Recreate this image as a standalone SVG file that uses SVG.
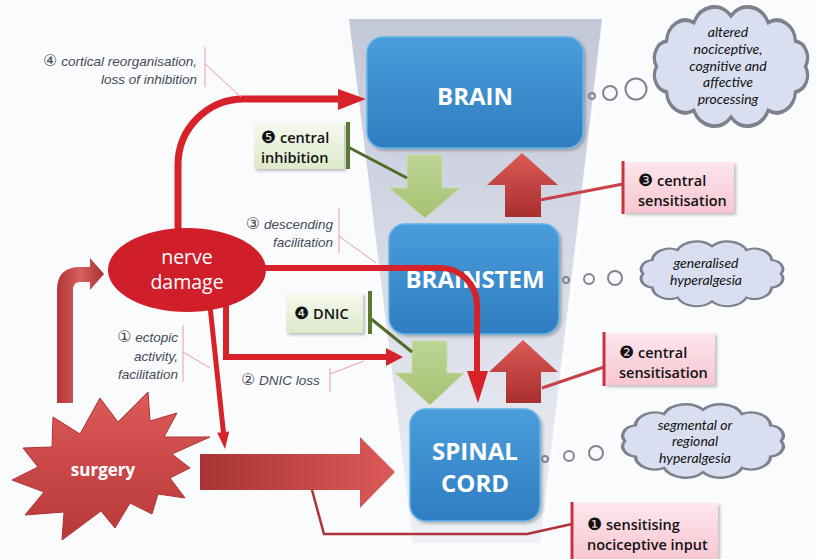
<svg xmlns="http://www.w3.org/2000/svg" width="816" height="559" viewBox="0 0 816 559">
<defs>
<linearGradient id="gFunnel" x1="0" y1="0" x2="0" y2="1"><stop offset="0" stop-color="#c3c8d9"/><stop offset="1" stop-color="#eef0f6"/></linearGradient>
<linearGradient id="gBlue" x1="0" y1="0" x2="0" y2="1"><stop offset="0" stop-color="#4a9ddb"/><stop offset="1" stop-color="#2f7dc1"/></linearGradient>
<linearGradient id="gGreenBox" x1="0" y1="0" x2="0" y2="1"><stop offset="0" stop-color="#f6f9ef"/><stop offset="1" stop-color="#dde9c9"/></linearGradient>
<linearGradient id="gPinkBox" x1="0" y1="0" x2="0" y2="1"><stop offset="0" stop-color="#fde6ec"/><stop offset="1" stop-color="#f7c6d1"/></linearGradient>
<linearGradient id="gGreenArr" x1="0" y1="0" x2="0" y2="1"><stop offset="0" stop-color="#bdd594"/><stop offset="1" stop-color="#a6c173"/></linearGradient>
<linearGradient id="gRedArr" x1="0" y1="0" x2="0" y2="1"><stop offset="0" stop-color="#dc5a55"/><stop offset="1" stop-color="#a82f2f"/></linearGradient>
<linearGradient id="gSurgArr" x1="0" y1="0" x2="1" y2="0"><stop offset="0" stop-color="#a83434"/><stop offset="1" stop-color="#dc5a58"/></linearGradient>
<linearGradient id="gBent" x1="0" y1="0" x2="1" y2="0"><stop offset="0" stop-color="#b23636"/><stop offset="0.5" stop-color="#d86060"/><stop offset="1" stop-color="#a83030"/></linearGradient>
<linearGradient id="gStar" x1="0" y1="0" x2="0" y2="1"><stop offset="0" stop-color="#dc5a58"/><stop offset="1" stop-color="#b83838"/></linearGradient>
<filter id="sh" x="-10%" y="-10%" width="125%" height="130%"><feDropShadow dx="2" dy="2" stdDeviation="1.5" flood-color="#000" flood-opacity="0.25"/></filter>
<path id="cloud" d="M96,30 A8.6,8.6 0 0 1 89.8,43 A11.6,11.6 0 0 1 73,52.5 A14,14 0 0 1 50,56 A14,14 0 0 1 27,52.5 A11.6,11.6 0 0 1 10.2,43 A8.6,8.6 0 0 1 4,30 A8.6,8.6 0 0 1 10.2,17 A11.6,11.6 0 0 1 27,7.5 A14,14 0 0 1 50,4 A14,14 0 0 1 73,7.5 A11.6,11.6 0 0 1 89.8,17 A8.6,8.6 0 0 1 96,30 Z"/>
</defs>
<style>
.box{fill:url(#gBlue);stroke:#5fb2e8;stroke-width:1.5;filter:url(#sh)}
.boxt{font-family:"Open Sans","Noto Sans",sans-serif;font-weight:bold;font-size:24px;fill:#fff;text-anchor:middle}
.cloud{fill:#d9dff0;stroke:#7c818c;stroke-width:2}
.dot{fill:none;stroke:#80858f;stroke-width:2}
.ct{font-family:Lato,"DejaVu Sans",sans-serif;font-style:italic;font-size:14px;fill:#111;text-anchor:middle}
.gbox{fill:url(#gGreenBox);filter:url(#sh)}
.gbar{stroke:#5a7830;stroke-width:4}
.gcon{stroke:#4f6b2a;stroke-width:3;fill:none}
.pbox{fill:url(#gPinkBox);filter:url(#sh)}
.pbar{stroke:#c8343e;stroke-width:3}
.pcon{stroke:#c8404a;stroke-width:3;fill:none}
.bt{font-family:"Open Sans","DejaVu Sans",sans-serif;font-weight:600;font-size:14.5px;fill:#111}
.num{font-family:"DejaVu Sans",sans-serif;font-size:17px;font-weight:normal}
.cnum{font-family:"DejaVu Sans",sans-serif;font-size:16px;font-style:normal}
.lab{font-family:"Liberation Sans","DejaVu Sans",sans-serif;font-style:italic;font-size:13.5px;fill:#464a55}
.thin{stroke:#ec9ca8;stroke-width:1;fill:none}
.red{stroke:#d8222a;fill:none}
.redh{fill:#d8222a}
</style>
<rect width="816" height="559" fill="#f9fbfd"/>
<g id="funnel">
<polygon points="349,19 602,19 540,543 413,543" fill="url(#gFunnel)"/>
<line x1="605" y1="21" x2="543" y2="543" stroke="#ffffff" stroke-width="1.5"/>
</g>
<g id="brain"><rect class="box" x="367" y="37" width="216" height="111" rx="16"/><text class="boxt" x="475" y="105">BRAIN</text></g>
<g id="brainstem"><rect class="box" x="389" y="224" width="170" height="110" rx="16"/><text class="boxt" x="475" y="288">BRAINSTEM</text></g>
<g id="spinal-cord"><rect class="box" x="410" y="409" width="130" height="112" rx="16"/><text class="boxt" x="475" y="460">SPINAL</text><text class="boxt" x="475" y="492">CORD</text></g>
<g id="green-arrow-1"><polygon points="407,155 442,155 442,188 460,188 425,218 389,188 407,188" fill="url(#gGreenArr)" stroke="#c9dca8" stroke-width="1"/></g>
<g id="green-arrow-2"><polygon points="412,341 447,341 447,373 464,373 430,405 395,373 412,373" fill="url(#gGreenArr)" stroke="#c9dca8" stroke-width="1"/></g>
<g id="red-arrow-1"><polygon points="522,153 558,185 541,185 541,217 505,217 505,185 487,185" fill="url(#gRedArr)"/></g>
<g id="red-arrow-2"><polygon points="523,340 558,372 541,372 541,403 506,403 506,372 489,372" fill="url(#gRedArr)"/></g>
<g id="cloud-brain">
<circle class="dot" cx="592" cy="96" r="3"/><circle class="dot" cx="610" cy="93" r="7"/><circle class="dot" cx="636" cy="89" r="10.5"/>
<use href="#cloud" class="cloud" vector-effect="non-scaling-stroke" transform="translate(650,8) scale(1.62,1.95)"/>
<text class="ct" x="728" y="37">altered</text><text class="ct" x="728" y="54">nociceptive,</text><text class="ct" x="728" y="71">cognitive and</text><text class="ct" x="728" y="87">affective</text><text class="ct" x="728" y="104">processing</text>
</g>
<g id="cloud-brainstem">
<circle class="dot" cx="566" cy="280" r="3"/><circle class="dot" cx="589" cy="279" r="5"/><circle class="dot" cx="615" cy="278" r="7"/>
<use href="#cloud" class="cloud" vector-effect="non-scaling-stroke" transform="translate(637,242) scale(1.5,1.06)"/>
<text class="ct" x="706" y="268">generalised</text><text class="ct" x="706" y="285">hyperalgesia</text>
</g>
<g id="cloud-spinal">
<circle class="dot" cx="545" cy="459" r="3"/><circle class="dot" cx="569" cy="456" r="5"/><circle class="dot" cx="596" cy="453" r="7"/>
<use href="#cloud" class="cloud" vector-effect="non-scaling-stroke" transform="translate(618,405) scale(1.7,1.2)"/>
<text class="ct" x="695" y="430">segmental or</text><text class="ct" x="695" y="446">regional</text><text class="ct" x="695" y="463">hyperalgesia</text>
</g>
<g id="surgery-arrow"><polygon points="200,454 360,454 360,437 395,472 360,508 360,490 200,490" fill="url(#gSurgArr)"/></g>
<g id="bent-arrow"><path d="M57,403 V290 Q57,267 80,267 H90 V258 L104,274 L90,290 V282 H80 Q73,282 73,290 V403 Z" fill="url(#gBent)"/></g>
<g id="connectors">
<path class="red" stroke-width="7" d="M178,232 V165 A66,66 0 0 1 244,99 H340"/>
<polygon class="redh" points="338,89 366,99 338,110"/>
<path class="red" stroke-width="6" d="M262,268 H440 A37,37 0 0 1 477,305 V374"/>
<polygon class="redh" points="467,371 478,403 488,371"/>
<path class="red" stroke-width="6" d="M226,304 V357 H390"/>
<polygon class="redh" points="386,348 403,357 386,366"/>
<line class="red" stroke-width="5" x1="210" y1="306" x2="223.5" y2="433"/>
<polygon class="redh" points="229.2,431.5 225,449 217.2,432.7"/>
<polyline points="312,490 324,534 527,534 572,524" fill="none" stroke="#b0323a" stroke-width="2.5"/>
<line class="gcon" x1="348" y1="147" x2="407" y2="178"/>
<line class="gcon" x1="370" y1="318" x2="412" y2="352"/>
<line class="pcon" x1="540" y1="200" x2="623" y2="184"/>
<line class="pcon" x1="542" y1="388" x2="604" y2="367"/>
<line class="thin" x1="205" y1="47" x2="205" y2="87"/><line class="thin" x1="205" y1="64" x2="241" y2="97"/>
<line class="thin" x1="339" y1="208" x2="339" y2="253"/><line class="thin" x1="339" y1="236" x2="376" y2="263"/>
<line class="thin" x1="183" y1="325" x2="183" y2="382"/><line class="thin" x1="183" y1="352" x2="210" y2="368"/>
<line class="thin" x1="330" y1="368" x2="330" y2="392"/><line class="thin" x1="330" y1="374" x2="364" y2="361"/>
</g>
<g id="nerve-damage">
<ellipse cx="187" cy="270" rx="79" ry="42" fill="#d01f2a"/>
<text x="187" y="264" font-family="Open Sans,Noto Sans,sans-serif" font-size="19.5" fill="#fff" text-anchor="middle">nerve</text>
<text x="187" y="289" font-family="Open Sans,Noto Sans,sans-serif" font-size="19.5" fill="#fff" text-anchor="middle">damage</text>
</g>
<g id="surgery">
<polygon points="148,392 150,421 177,413 164,437 210,437 172,454 190,468 170,478 185,498 158,494 152,514 130,503 115,528 101,511 62,540 64,512 25,515 44,492 12,480 38,467 23,448 52,447 53,417 80,434 100,398 118,422" fill="url(#gStar)" stroke="#b03434" stroke-width="1"/>
<text x="103" y="476" font-family="Open Sans,Noto Sans,sans-serif" font-weight="bold" font-size="17" fill="#fff" text-anchor="middle">surgery</text>
</g>
<g id="label-central-inhibition"><rect class="gbox" x="254" y="123" width="90" height="46"/><line class="gbar" x1="348" y1="122" x2="348" y2="169"/><text class="bt" x="261" y="143"><tspan class="num">❺</tspan> central</text><text class="bt" x="261" y="163">inhibition</text></g>
<g id="label-dnic"><rect class="gbox" x="286" y="293" width="77" height="40"/><line class="gbar" x1="370" y1="291" x2="370" y2="334"/><text class="bt" x="294" y="319"><tspan class="num">❹</tspan> DNIC</text></g>
<g id="label-central-sens-3"><rect class="pbox" x="623" y="162" width="111" height="51"/><line class="pbar" x1="623" y1="161" x2="623" y2="214"/><text class="bt" x="638" y="186"><tspan class="num">❸</tspan> central</text><text class="bt" x="638" y="206">sensitisation</text></g>
<g id="label-central-sens-2"><rect class="pbox" x="604" y="333" width="111" height="52"/><line class="pbar" x1="604" y1="332" x2="604" y2="386"/><text class="bt" x="619" y="358"><tspan class="num">❷</tspan> central</text><text class="bt" x="619" y="378">sensitisation</text></g>
<g id="label-sensitising"><rect class="pbox" x="572" y="503" width="146" height="58"/><line class="pbar" x1="572" y1="502" x2="572" y2="559"/><text class="bt" x="587" y="530"><tspan class="num">❶</tspan> sensitising</text><text class="bt" x="587" y="550">nociceptive input</text></g>
<g id="italic-labels">
<text class="lab" x="197" y="66" text-anchor="end"><tspan class="cnum">④</tspan> cortical reorganisation,</text>
<text class="lab" x="197" y="84" text-anchor="end">loss of inhibition</text>
<text class="lab" x="333" y="229" text-anchor="end"><tspan class="cnum">③</tspan> descending</text>
<text class="lab" x="333" y="247" text-anchor="end">facilitation</text>
<text class="lab" x="178" y="342" text-anchor="end"><tspan class="cnum">①</tspan> ectopic</text>
<text class="lab" x="178" y="361" text-anchor="end">activity,</text>
<text class="lab" x="178" y="379" text-anchor="end">facilitation</text>
<text class="lab" x="241" y="385"><tspan class="cnum">②</tspan> DNIC loss</text>
</g>
</svg>
